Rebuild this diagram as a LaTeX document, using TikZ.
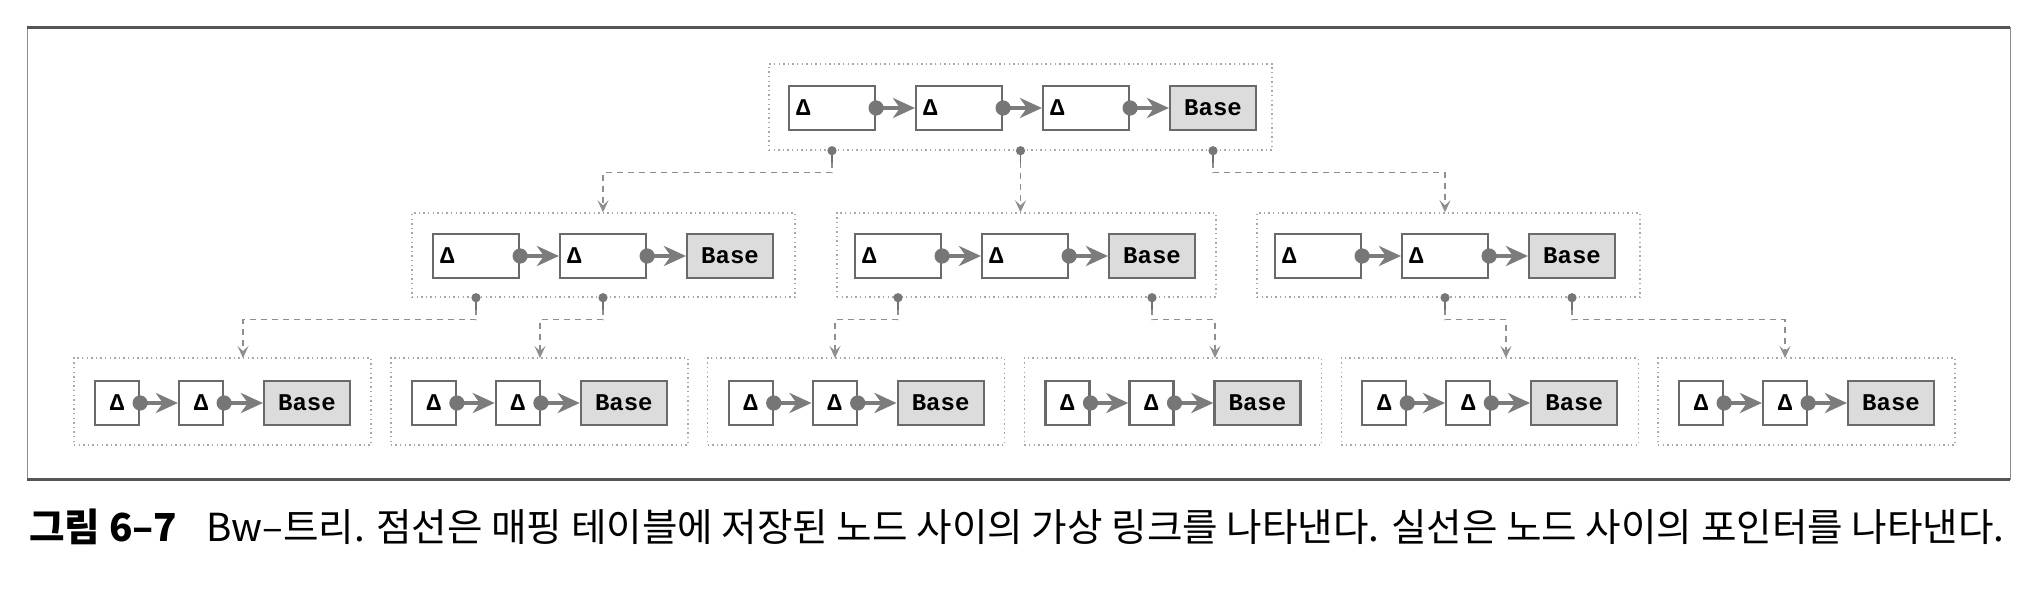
\documentclass[tikz,border=0pt]{standalone}
\usepackage{fontspec}
\setmonofont{Liberation Mono}
\newfontfamily\cjk{Noto Sans CJK KR}
\usetikzlibrary{arrows.meta}
\definecolor{boxc}{HTML}{6A6A6A}
\definecolor{basefill}{HTML}{DCDCDC}
\definecolor{ptrc}{HTML}{7C7C7C}
\definecolor{dotc}{HTML}{767676}
\definecolor{connc}{HTML}{8E8E8E}
\definecolor{grpc}{HTML}{A8A8A8}
\definecolor{framec}{HTML}{8A8A8A}
\definecolor{framedark}{HTML}{555555}
\begin{document}
\begin{tikzpicture}[x=0.5pt,y=-0.5pt,
  dbox/.style={draw=boxc, line width=1.1pt, fill=white, minimum height=22pt, inner ysep=0pt,
    font=\ttfamily\bfseries\fontsize{12pt}{14pt}\selectfont},
  dl/.style={dbox, minimum width=43pt, text width=36pt, align=left, inner xsep=3.5pt},
  ds/.style={dbox, minimum width=22pt, inner xsep=0pt},
  basebox/.style={dbox, minimum width=43pt, inner xsep=0pt, fill=basefill},
  grp/.style={draw=grpc, line width=0.7pt, dash pattern=on 0.7pt off 1.6pt, inner sep=0pt},
  ptr/.style={draw=ptrc, line width=2.4pt, -{Stealth[length=11pt,width=10pt,inset=3.5pt]}},
  pdot/.style={fill=dotc},
  conn/.style={draw=connc, line width=0.7pt, dash pattern=on 3pt off 2.5pt,
    -{Stealth[length=6pt,width=5.5pt,inset=2.5pt]}},
  stem/.style={draw=connc!80!black, line width=0.8pt},
  cdot/.style={fill=dotc}
]
\useasboundingbox (0,0) rectangle (2040,594);
\fill[white] (0,0) rectangle (2040,594);
% frame
\draw[framec, line width=0.5pt] (27,27) rectangle (2010,479);
\draw[framedark, line width=1.5pt] (27,27) -- (2010,27);
\draw[framedark, line width=1.5pt] (27,479) -- (2010,479);

% ---------- top group ----------
\node[grp, minimum width=251.5pt, minimum height=43pt] (T) at (1020.5,107) {};
\node[dl] (t1) at (832,108) {Δ};
\node[dl] (t2) at (959,108) {Δ};
\node[dl] (t3) at (1086,108) {Δ};
\node[basebox] (tb) at (1213,108) {Base};

% ---------- middle groups ----------
\node[grp, minimum width=191.5pt, minimum height=42pt] (M1) at (603.5,255) {};
\node[dl] (m11) at (476,256) {Δ};
\node[dl] (m12) at (603,256) {Δ};
\node[basebox] (m1b) at (730,256) {Base};

\node[grp, minimum width=189.5pt, minimum height=42pt] (M2) at (1026.5,255) {};
\node[dl] (m21) at (898,256) {Δ};
\node[dl] (m22) at (1025,256) {Δ};
\node[basebox] (m2b) at (1152,256) {Base};

\node[grp, minimum width=191.5pt, minimum height=42pt] (M3) at (1448.5,255) {};
\node[dl] (m31) at (1318,256) {Δ};
\node[dl] (m32) at (1445,256) {Δ};
\node[basebox] (m3b) at (1572,256) {Base};

% ---------- bottom groups ----------
\foreach \i/\L in {1/74,2/390.8,3/707.6,4/1024.4,5/1341.2,6/1658}{
  \node[grp, minimum width=148.5pt, minimum height=43.5pt] (B\i) at (\L+148.5,401.5) {};
  \node[ds] (b\i a) at (\L+43,403) {Δ};
  \node[ds] (b\i b) at (\L+127,403) {Δ};
  \node[basebox] (b\i c) at (\L+233,403) {Base};
}

% ---------- pointers ----------
\foreach \a/\b in {t1/t2,t2/t3,t3/tb,m11/m12,m12/m1b,m21/m22,m22/m2b,m31/m32,m32/m3b,
  b1a/b1b,b1b/b1c,b2a/b2b,b2b/b2c,b3a/b3b,b3b/b3c,b4a/b4b,b4b/b4c,b5a/b5b,b5b/b5c,b6a/b6b,b6b/b6c}{
  \draw[ptr] (\a.east) -- (\b.west);
  \fill[pdot] (\a.east) circle[radius=3.8pt];
}

% ---------- mapping-table links ----------
\coordinate (td1) at (t1 |- T.south);
\coordinate (td2) at (T.south);
\coordinate (td3) at (tb |- T.south);
\coordinate (m1in) at (m12 |- M1.north);
\coordinate (m2in) at (td2 |- M2.north);
\coordinate (m3in) at (m32 |- M3.north);

\coordinate (md1) at (m11 |- M1.south);
\coordinate (md2) at (m12 |- M1.south);
\coordinate (md3) at (m21 |- M2.south);
\coordinate (md4) at (m2b |- M2.south);
\coordinate (md5) at (m32 |- M3.south);
\coordinate (md6) at (m3b |- M3.south);

\coordinate (b1in) at (243,358);
\coordinate (b2in) at (540,358);
\coordinate (b3in) at (835,358);
\coordinate (b4in) at (1215,358);
\coordinate (b5in) at (1506,358);
\coordinate (b6in) at (1785,358);

\foreach \s/\t in {td1/m1in,td2/m2in,td3/m3in,md1/b1in,md2/b2in,md3/b3in,md4/b4in,md5/b5in,md6/b6in}{
  \draw[conn] (\s) -- ++(0,22) -| (\t);
  \draw[stem] (\s) -- ++(0,12);
  \fill[cdot] (\s) circle[radius=2.3pt];
}

% ---------- caption ----------
\node[anchor=west, inner sep=0pt, font=\cjk\fontsize{19.3pt}{22pt}\selectfont] (cap) at (29,527)
  {\textbf{그림 6–7}\hspace{0.75em}Bw–트리. 점선은 매핑 테이블에 저장된 노드 사이의 가상 링크를 나타낸다. 실선은 노드 사이의 포인터를 나타낸다.};
\end{tikzpicture}
\end{document}
